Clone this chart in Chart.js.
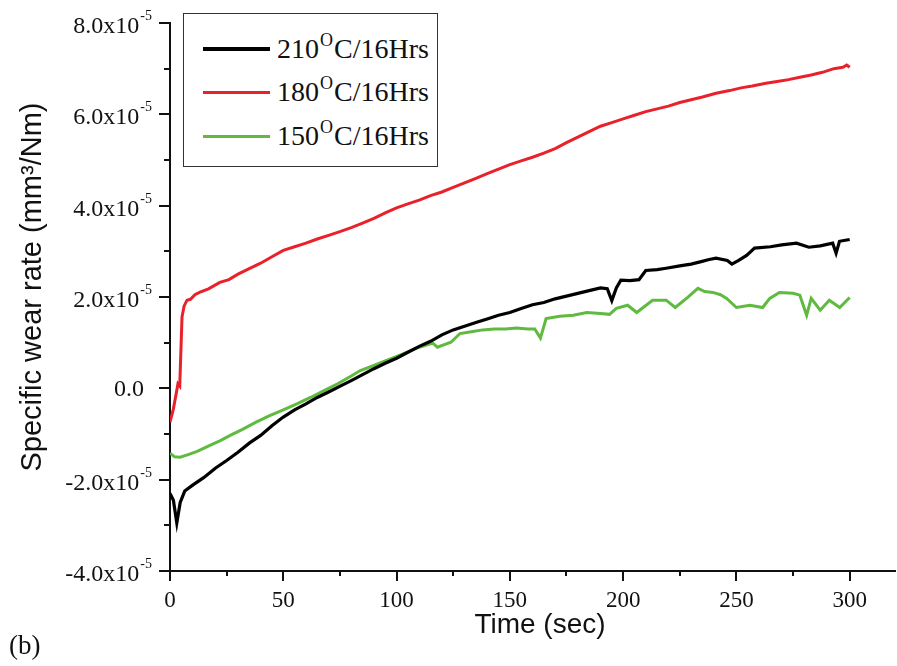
<!DOCTYPE html>
<html>
<head>
<meta charset="utf-8">
<script src="https://cdn.jsdelivr.net/npm/chart.js@4.4.1/dist/chart.umd.min.js"></script>
<style>
  html, body { margin: 0; padding: 0; background: #fff; }
  #wrap { position: relative; width: 897px; height: 666px; }
  #grafico { position: absolute; left: 0; top: 0; }
  .legenda {
    position: absolute; left: 183px; top: 13px; width: 253px; height: 152px;
    border: 1.5px solid #333; background: #fff;
    font-family: "Liberation Serif", "Times New Roman", serif; font-size: 28px; color: #111;
  }
  .item { position: absolute; left: 19px; height: 34px; display: flex; align-items: center; white-space: nowrap; }
  .item .linha { display: inline-block; width: 67px; height: 3px; margin-right: 7px; }
  .item .txt { display: inline-block; line-height: 34px; }
  .item sup { font-size: 18px; vertical-align: 12px; line-height: 0; margin: 0 1px; }
  .rotulo { position: absolute; left: 9px; top: 630px; font-family: "Liberation Serif", serif; font-size: 27px; color: #111; }
</style>
</head>
<body>
<div id="wrap">
  <canvas id="grafico" width="897" height="666"></canvas>
  <div class="legenda">
    <div class="item" style="top:18px"><span class="linha" style="background:#000;height:4px"></span><span class="txt">210<sup>O</sup>C/16Hrs</span></div>
    <div class="item" style="top:61px"><span class="linha" style="background:#e8212b"></span><span class="txt">180<sup>O</sup>C/16Hrs</span></div>
    <div class="item" style="top:105px"><span class="linha" style="background:#5fba3f"></span><span class="txt">150<sup>O</sup>C/16Hrs</span></div>
  </div>
  <div class="rotulo">(b)</div>
</div>
<script>
// ===============================
//   DADOS (taxa de desgaste em 1e-5 mm3/Nm)
// ===============================
const tempo210 = [0,1.5,3,4.5,6.5,10,15,20,25,30,35,40,45,50,55,60,65,70,76,80,85,90,95,100,105,110,115,120,125,130,135,140,145,150,155,160,165,170,175,180,185,190,193,195,197,199,203,207,210,215,219,225,230,234,238,241,246,248,251,254.5,258,265,270,276.5,282,287,292.5,294,295.5,300];
const desgaste210 = [-2.30,-2.45,-2.95,-2.5,-2.25,-2.12,-1.95,-1.75,-1.58,-1.4,-1.2,-1.03,-0.82,-0.63,-0.47,-0.34,-0.2,-0.08,0.07,0.17,0.3,0.43,0.55,0.66,0.79,0.92,1.03,1.17,1.28,1.36,1.44,1.52,1.6,1.66,1.75,1.83,1.88,1.96,2.02,2.08,2.14,2.2,2.18,1.92,2.2,2.37,2.36,2.38,2.58,2.6,2.63,2.68,2.72,2.77,2.82,2.85,2.8,2.72,2.8,2.91,3.07,3.1,3.14,3.18,3.09,3.12,3.18,2.96,3.22,3.26];

const tempo180 = [0,1.5,3,3.5,4.3,5.3,6.2,7.5,9,11,13,17,22,26,30,35,40,45,50,55,60,65,70,75,80,85,90,95,100,105,110,115,120,125,130,135,140,145,150,155,160,165,170,175,180,185,190,195,200,205,210,215,220,225,230,235,241,247,252,257,263,268,273,278,283,288,293,297,298.7,300];
const desgaste180 = [-0.74,-0.45,-0.04,0.1,0.05,1.56,1.8,1.93,1.95,2.05,2.1,2.18,2.32,2.38,2.5,2.62,2.74,2.88,3.02,3.1,3.18,3.27,3.35,3.43,3.52,3.62,3.72,3.84,3.95,4.04,4.12,4.22,4.3,4.4,4.5,4.6,4.7,4.8,4.9,4.98,5.06,5.15,5.25,5.38,5.5,5.62,5.74,5.82,5.9,5.98,6.06,6.12,6.18,6.26,6.32,6.38,6.46,6.52,6.58,6.62,6.68,6.72,6.76,6.81,6.86,6.92,7.0,7.03,7.08,7.03];

const tempo150 = [0,2,4.5,8,12,17.6,22,27,32,38,44,50,56,62,68,74,80,84,90,95,99,105,110,116,118,124,128,133,138,143,148,153,158,161,163.5,166,172,178,184,190,194,197,202,206,213,219,223,228.5,233,236,239.6,243,245.7,250,256,261.6,264.7,269,275,278,281,283,287,291,295.6,300];
const desgaste150 = [-1.42,-1.5,-1.51,-1.45,-1.38,-1.25,-1.15,-1.02,-0.9,-0.74,-0.6,-0.47,-0.34,-0.2,-0.05,0.1,0.27,0.39,0.5,0.6,0.68,0.8,0.9,0.99,0.9,1.01,1.2,1.24,1.28,1.3,1.3,1.32,1.3,1.3,1.1,1.53,1.58,1.6,1.66,1.64,1.62,1.75,1.82,1.66,1.93,1.93,1.77,1.99,2.19,2.12,2.1,2.05,1.97,1.77,1.82,1.77,1.97,2.1,2.08,2.04,1.6,1.97,1.71,1.93,1.77,1.99];

const ticksX = [0, 50, 100, 150, 200, 250, 300];
const ticksXMenores = [25, 75, 125, 175, 225, 275];
const ticksY = [-4, -2, 0, 2, 4, 6, 8];
const ticksYMenores = [-3, -1, 1, 3, 5, 7];

const pontos = (ts, vs) => ts.map((t, i) => ({ x: t, y: vs[i] }));

// ===============================
//   PLUGIN: rotulos e ticks menores
// ===============================
const eixosCustom = {
  id: "eixosCustom",
  afterDraw(chart) {
    const ctx = chart.ctx;
    const sx = chart.scales.x, sy = chart.scales.y;
    const area = chart.chartArea;
    ctx.save();
    ctx.strokeStyle = "#111";
    ctx.lineWidth = 2;

    // ticks menores
    ticksYMenores.forEach(v => {
      const y = Math.round(sy.getPixelForValue(v));
      ctx.beginPath(); ctx.moveTo(area.left - 6, y); ctx.lineTo(area.left, y); ctx.stroke();
    });
    ticksXMenores.forEach(v => {
      const x = Math.round(sx.getPixelForValue(v));
      ctx.beginPath(); ctx.moveTo(x, area.bottom); ctx.lineTo(x, area.bottom + 5); ctx.stroke();
    });

    ctx.fillStyle = "#111";
    // rotulos Y
    ticksY.forEach(v => {
      const y = sy.getPixelForValue(v);
      if (v === 0) {
        ctx.font = '24px "Liberation Serif", serif';
        ctx.textAlign = "right";
        ctx.textBaseline = "alphabetic";
        ctx.fillText("0.0", 144, y + 8);
        return;
      }
      ctx.font = '14px "Liberation Serif", serif';
      const sup = "-5";
      const wSup = ctx.measureText(sup).width;
      ctx.textAlign = "left";
      ctx.fillText(sup, 152 - wSup, y - 3);
      ctx.font = '24px "Liberation Serif", serif';
      ctx.textAlign = "right";
      ctx.fillText(v.toFixed(1) + "x10", 152 - wSup - 1, y + 10);
    });

    // rotulos X
    ctx.font = '23px "Liberation Serif", serif';
    ctx.textAlign = "center";
    ticksX.forEach(v => {
      ctx.fillText(String(v), sx.getPixelForValue(v), 607);
    });

    // titulos
    ctx.font = '28px "Liberation Sans", Arial, sans-serif';
    ctx.fillText("Time (sec)", 540, 633);

    ctx.translate(33, 287);
    ctx.rotate(-Math.PI / 2);
    ctx.font = '29px "Liberation Sans", Arial, sans-serif';
    ctx.textBaseline = "middle";
    ctx.fillText("Specific wear rate (mm³/Nm)", 0, 0);
    ctx.restore();
  }
};

// ===============================
//   GRAFICO
// ===============================
new Chart(document.getElementById("grafico"), {
  type: "line",
  data: {
    datasets: [
      { label: "210°C/16Hrs", data: pontos(tempo210, desgaste210), borderColor: "#000", borderWidth: 3.2 },
      { label: "180°C/16Hrs", data: pontos(tempo180, desgaste180), borderColor: "#e8212b", borderWidth: 3 },
      { label: "150°C/16Hrs", data: pontos(tempo150, desgaste150), borderColor: "#5fba3f", borderWidth: 3 }
    ]
  },
  options: {
    responsive: false,
    animation: false,
    layout: { padding: { left: 0, top: 23, right: 2, bottom: 0 } },
    elements: { point: { radius: 0 }, line: { tension: 0 } },
    plugins: { legend: { display: false }, tooltip: { enabled: false } },
    scales: {
      x: {
        type: "linear", min: 0, max: 320,
        ticks: { display: false, stepSize: 50 },
        afterBuildTicks: s => { s.ticks = s.ticks.filter(t => t.value % 50 === 0); },
        afterFit: s => { s.height = 95; },
        grid: { drawOnChartArea: false, drawTicks: true, tickLength: 10, color: "#111", lineWidth: 2 },
        border: { color: "#111", width: 2 }
      },
      y: {
        type: "linear", min: -4, max: 8,
        ticks: { display: false, stepSize: 2 },
        afterFit: s => { s.width = 170; },
        grid: { drawOnChartArea: false, drawTicks: true, tickLength: 11, color: "#111", lineWidth: 2 },
        border: { color: "#111", width: 2 }
      }
    }
  },
  plugins: [eixosCustom]
});
</script>
</body>
</html>
